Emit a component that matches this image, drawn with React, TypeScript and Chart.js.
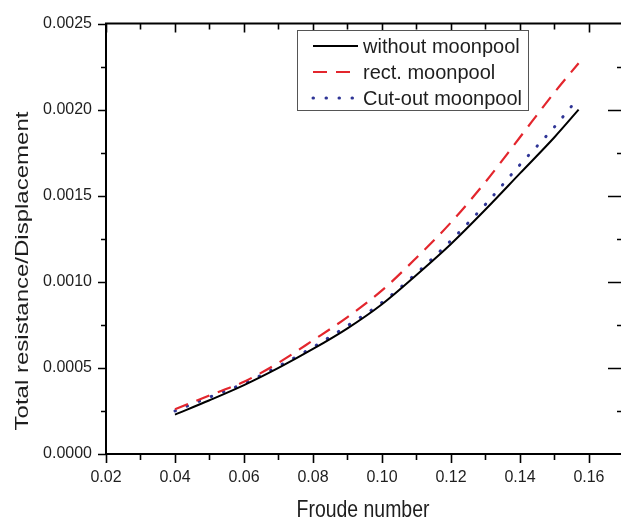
import React, { useEffect, useRef } from "react";
import { Chart, registerables } from "chart.js";

Chart.register(...registerables);

// ---- data ----
const froude = [0.04, 0.05, 0.06, 0.07, 0.08, 0.09, 0.1, 0.11, 0.12, 0.13, 0.14, 0.15, 0.157];
const withoutMoonpool = [0.000229, 0.000312, 0.0004, 0.0005, 0.00061, 0.00073, 0.00087, 0.00104, 0.00122, 0.00142, 0.00163, 0.00184, 0.002];
const rectMoonpool = [0.00026, 0.00034, 0.00042, 0.00053, 0.00066, 0.000795, 0.00095, 0.00114, 0.001345, 0.00158, 0.00184, 0.0021, 0.00227];
const cutOutMoonpool = [0.00025, 0.00033, 0.00041, 0.00051, 0.00062, 0.000745, 0.00088, 0.00105, 0.00124, 0.00145, 0.00168, 0.0019, 0.00207];
const seriesLabels = ["without moonpool", "rect. moonpool", "Cut-out moonpool"];
const xTicks = [0.02, 0.04, 0.06, 0.08, 0.1, 0.12, 0.14, 0.16];
const xMinorTicks = [0.03, 0.05, 0.07, 0.09, 0.11, 0.13, 0.15];
const yTicks = [0, 0.0005, 0.001, 0.0015, 0.002, 0.0025];
const yMinorTicks = [0.00025, 0.00075, 0.00125, 0.00175, 0.00225];
const xTitle = "Froude number";
const yTitle = "Total resistance/Displacement";

const FONT = "'Liberation Sans', Arial, sans-serif";
const TXT = "#1e1e1e";

const framePlugin = {
  id: "frame",
  afterDraw(chart: any) {
    const { ctx, chartArea: a } = chart;
    const xs = chart.scales.x;
    const ys = chart.scales.y;
    ctx.save();
    ctx.strokeStyle = "#000";
    ctx.lineWidth = 2;
    ctx.lineCap = "butt";
    // frame: left, bottom, top (right edge is off the picture)
    ctx.beginPath();
    ctx.moveTo(a.left, a.top);
    ctx.lineTo(a.left, a.bottom);
    ctx.moveTo(a.left - 1, a.bottom);
    ctx.lineTo(a.right + 2, a.bottom);
    ctx.moveTo(a.left - 1, a.top);
    ctx.lineTo(a.right + 2, a.top);
    ctx.stroke();

    ctx.lineWidth = 1.6;
    ctx.beginPath();
    // bottom (outward) and top (inward) ticks
    xTicks.forEach((v) => {
      const px = Math.round(xs.getPixelForValue(v)) + 0.5;
      ctx.moveTo(px, a.bottom);
      ctx.lineTo(px, a.bottom + 9);
      ctx.moveTo(px, a.top);
      ctx.lineTo(px, a.top + 9);
    });
    xMinorTicks.forEach((v) => {
      const px = Math.round(xs.getPixelForValue(v)) + 0.5;
      ctx.moveTo(px, a.bottom);
      ctx.lineTo(px, a.bottom + 6);
      ctx.moveTo(px, a.top);
      ctx.lineTo(px, a.top + 6);
    });
    // left (outward) and right (inward) ticks
    yTicks.forEach((v) => {
      const py = Math.round(ys.getPixelForValue(v)) + 0.5;
      ctx.moveTo(a.left, py);
      ctx.lineTo(a.left - 8, py);
      if (v > 0 && v < 0.0025) {
        ctx.moveTo(a.right + 2, py);
        ctx.lineTo(a.right - 12, py);
      }
    });
    yMinorTicks.forEach((v) => {
      const py = Math.round(ys.getPixelForValue(v)) + 0.5;
      ctx.moveTo(a.left, py);
      ctx.lineTo(a.left - 5, py);
      ctx.moveTo(a.right + 2, py);
      ctx.lineTo(a.right - 3, py);
    });
    ctx.stroke();

    // axis titles (horizontally condensed like the reference)
    ctx.fillStyle = TXT;
    ctx.font = `24px ${FONT}`;
    ctx.textAlign = "center";
    ctx.textBaseline = "alphabetic";
    ctx.save();
    ctx.translate((a.left + a.right) / 2, 517);
    ctx.scale(0.81, 1);
    ctx.fillText(xTitle, 0, 0);
    ctx.restore();

    ctx.save();
    ctx.translate(28, 271);
    ctx.scale(0.78, 1);
    ctx.rotate(-Math.PI / 2);
    ctx.fillText(yTitle, 0, 0);
    ctx.restore();

    // legend
    const bx = 297, by = 30, bw = 231, bh = 80;
    ctx.fillStyle = "#fff";
    ctx.fillRect(bx, by, bw, bh);
    ctx.strokeStyle = "#555";
    ctx.lineWidth = 1;
    ctx.strokeRect(bx + 0.5, by + 0.5, bw, bh);
    const rows = [46, 72, 98];
    chart.data.datasets.forEach((ds: any, i: number) => {
      const y = rows[i];
      ctx.save();
      ctx.strokeStyle = ds.borderColor;
      ctx.lineWidth = ds.borderWidth;
      ctx.lineCap = ds.borderCapStyle || "butt";
      ctx.setLineDash(ds.borderDash || []);
      ctx.beginPath();
      ctx.moveTo(313, y);
      ctx.lineTo(358, y);
      ctx.stroke();
      ctx.restore();
      ctx.fillStyle = TXT;
      ctx.font = `20px ${FONT}`;
      ctx.textAlign = "left";
      ctx.textBaseline = "middle";
      ctx.fillText(ds.label, 363, y + 1);
    });
    ctx.restore();
  },
};

const toPoints = (ys: number[]) => froude.map((x, i) => ({ x, y: ys[i] }));

export default function App() {
  const ref = useRef<HTMLCanvasElement | null>(null);
  useEffect(() => {
    document.body.style.margin = "0";
    document.body.style.overflow = "hidden";
    if (!ref.current) return;
    const chart = new Chart(ref.current, {
      type: "line",
      data: {
        datasets: [
          {
            label: seriesLabels[0],
            data: toPoints(withoutMoonpool),
            borderColor: "#000000",
            borderWidth: 2,
            borderCapStyle: "butt",
          },
          {
            label: seriesLabels[1],
            data: toPoints(rectMoonpool),
            borderColor: "#e3262d",
            borderWidth: 2.2,
            borderDash: [14, 9],
            borderCapStyle: "butt",
          },
          {
            label: seriesLabels[2],
            data: toPoints(cutOutMoonpool),
            borderColor: "#2f3596",
            borderWidth: 3,
            borderDash: [0.5, 12.5],
            borderCapStyle: "round",
          },
        ],
      } as any,
      options: {
        responsive: false,
        devicePixelRatio: 1,
        animation: false,
        layout: { padding: { top: 17, right: 1, left: 0, bottom: 0 } },
        elements: {
          point: { radius: 0 },
          line: { tension: 0.4, cubicInterpolationMode: "monotone", fill: false },
        },
        plugins: { legend: { display: false }, tooltip: { enabled: false }, title: { display: false } },
        scales: {
          x: {
            type: "linear",
            min: 0.02,
            max: 0.169,
            afterBuildTicks: (s: any) => {
              s.ticks = xTicks.map((v) => ({ value: v }));
            },
            afterFit: (s: any) => {
              s.height = 67;
            },
            grid: { display: false, drawTicks: false },
            border: { display: false },
            ticks: {
              autoSkip: false,
              maxRotation: 0,
              padding: 14,
              color: TXT,
              font: { family: FONT, size: 16 },
              callback: (v: any) => Number(v).toFixed(2),
            },
          },
          y: {
            type: "linear",
            min: 0,
            max: 0.0025,
            afterBuildTicks: (s: any) => {
              s.ticks = yTicks.map((v) => ({ value: v }));
            },
            afterFit: (s: any) => {
              s.width = 106;
            },
            grid: { display: false, drawTicks: false },
            border: { display: false },
            ticks: {
              autoSkip: false,
              padding: 14,
              color: TXT,
              font: { family: FONT, size: 16 },
              callback: (v: any) => Number(v).toFixed(4),
            },
          },
        },
      } as any,
      plugins: [framePlugin],
    });
    return () => chart.destroy();
  }, []);
  return (
    <div style={{ position: "absolute", left: 0, top: 0, width: 621, height: 521 }}>
      <canvas ref={ref} width={621} height={521} style={{ display: "block" }} />
    </div>
  );
}
